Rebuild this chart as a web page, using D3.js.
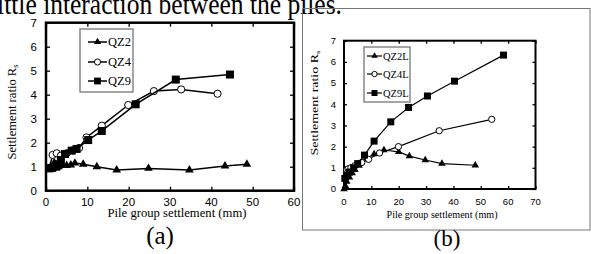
<!DOCTYPE html>
<html>
<head>
<meta charset="utf-8">
<script src="https://cdn.jsdelivr.net/npm/d3@7"></script>
<style>
  body { margin: 0; background: #fff; }
  svg { display: block; }
</style>
</head>
<body>
<div class="graphHere"></div>
<script>
// panel (a) data - settlement (mm) vs settlement ratio
var qz2X = [0.8, 1.5, 2, 2.5, 3, 4, 5, 6, 7, 9, 12.3, 17.1, 24.8, 34.7, 43.3, 48.6];
var qz2Y = [0.92, 0.95, 1.17, 1.05, 1.0, 1.05, 1.05, 1.07, 1.15, 1.1, 1.0, 0.86, 0.93, 0.86, 1.03, 1.1];
var qz4X = [0.8, 1.6, 2.6, 3.6, 5, 6.5, 8, 9.8, 13.5, 19.9, 26.1, 32.7, 41.5];
var qz4Y = [0.95, 1.49, 1.56, 1.46, 1.56, 1.68, 1.78, 2.22, 2.71, 3.57, 4.15, 4.22, 4.04];
var qz9X = [0.8, 1.5, 2.5, 3, 3.6, 4.6, 6.2, 7.4, 10.2, 13.5, 21.7, 31.4, 44.5];
var qz9Y = [0.93, 0.95, 1.0, 1.1, 1.28, 1.53, 1.67, 1.74, 2.11, 2.49, 3.6, 4.63, 4.84];

// panel (b) data
var qz2lX = [0, 0.5, 1, 2, 3, 4, 5.5, 8, 11, 14.6, 20, 23.9, 29.7, 35.8, 48];
var qz2lY = [0, 0.15, 0.35, 0.55, 0.75, 0.9, 1.1, 1.4, 1.65, 1.84, 1.75, 1.55, 1.37, 1.2, 1.12];
var qz4lX = [1, 1.5, 2.5, 4, 6.5, 9, 13, 19.9, 34.8, 54];
var qz4lY = [0.9, 0.95, 1.0, 1.1, 1.25, 1.4, 1.7, 2.0, 2.75, 3.29];
var qz9lX = [0.3, 1, 2, 3.5, 5, 7.5, 11, 17.1, 23.6, 30.5, 40.4, 58.3];
var qz9lY = [0.5, 0.65, 0.8, 1.0, 1.2, 1.6, 2.26, 3.17, 3.85, 4.39, 5.09, 6.32];

var xTicksA = [0, 10, 20, 30, 40, 50, 60];
var xTicksB = [0, 10, 20, 30, 40, 50, 60, 70];
var yTicks = [0, 1, 2, 3, 4, 5, 6, 7];

var serif = "'Liberation Serif', 'DejaVu Serif', serif";
var sans = "'Liberation Sans', Arial, sans-serif";

function pts(xs, ys){
  return xs.map(function(x, i){ return [x, ys[i]]; });
}

var svg = d3.select(".graphHere").append("svg")
  .attr("width", 591)
  .attr("height", 254);

// cropped caption line at the top
svg.append("text")
  .attr("x", -10).attr("y", 14)
  .attr("textLength", 352)
  .attr("lengthAdjust", "spacingAndGlyphs")
  .style("font-family", serif)
  .style("font-size", "30px")
  .text("little interaction between the piles.");

// outer box of panel (b)
svg.append("rect")
  .attr("x", 302.5).attr("y", 8.5)
  .attr("width", 287.5).attr("height", 221.5)
  .attr("fill", "none").attr("stroke", "#777").attr("stroke-width", 1);

function drawPanel(p){
  var x = d3.scaleLinear().domain([0, p.xMax]).range([p.left, p.right]);
  var y = d3.scaleLinear().domain([0, 7]).range([p.bottom, p.top]);
  var g = svg.append("g");

  // inner ticks on all four sides
  g.append("g").attr("transform", "translate(0," + p.bottom + ")")
    .call(d3.axisBottom(x).tickValues(p.xTicks).tickSizeInner(-p.tick).tickSizeOuter(0).tickFormat(""));
  g.append("g").attr("transform", "translate(0," + p.top + ")")
    .call(d3.axisTop(x).tickValues(p.xTicks).tickSizeInner(-p.tick).tickSizeOuter(0).tickFormat(""));
  g.append("g").attr("transform", "translate(" + p.left + ",0)")
    .call(d3.axisLeft(y).tickValues(yTicks).tickSizeInner(-p.tick).tickSizeOuter(0).tickFormat(""));
  g.append("g").attr("transform", "translate(" + p.right + ",0)")
    .call(d3.axisRight(y).tickValues(yTicks).tickSizeInner(-p.tick).tickSizeOuter(0).tickFormat(""));
  g.selectAll(".domain").remove();
  g.selectAll(".tick line").attr("stroke", "#000").attr("stroke-width", 1.3);

  g.append("rect")
    .attr("x", p.left).attr("y", p.top)
    .attr("width", p.right - p.left).attr("height", p.bottom - p.top)
    .attr("fill", "none").attr("stroke", "#000").attr("stroke-width", p.frame);

  // tick labels
  g.selectAll(".xl").data(p.xTicks).enter().append("text")
    .attr("x", function(d){ return x(d); })
    .attr("y", p.bottom + p.xLabGap)
    .attr("text-anchor", "middle")
    .style("font-family", sans)
    .style("font-size", p.tickFont + "px")
    .text(function(d){ return d; });
  g.selectAll(".yl").data(yTicks).enter().append("text")
    .attr("x", p.left - p.yLabGap)
    .attr("y", function(d){ return y(d) + p.tickFont * 0.36; })
    .attr("text-anchor", "end")
    .style("font-family", sans)
    .style("font-size", p.tickFont + "px")
    .text(function(d){ return d; });

  // axis titles
  g.append("text")
    .attr("x", p.xTitle[0]).attr("y", p.xTitle[1])
    .attr("text-anchor", "middle")
    .attr("textLength", p.xTitleLen).attr("lengthAdjust", "spacingAndGlyphs")
    .style("font-family", serif)
    .style("font-size", p.titleFont + "px")
    .text("Pile group settlement (mm)");
  var yt = g.append("text")
    .attr("transform", "translate(" + p.yTitle[0] + "," + p.yTitle[1] + ") rotate(-90)")
    .attr("text-anchor", "middle")
    .attr("textLength", p.yTitleLen).attr("lengthAdjust", "spacingAndGlyphs")
    .style("font-family", serif)
    .style("font-size", p.titleFont + "px");
  yt.append("tspan").text("Settlement ratio R");
  yt.append("tspan").attr("dy", 2).style("font-size", (p.titleFont * 0.65) + "px").text("s");

  // series
  var line = d3.line().x(function(d){ return x(d[0]); }).y(function(d){ return y(d[1]); });
  p.series.forEach(function(s){
    var data = pts(s.xs, s.ys);
    g.append("path").datum(data)
      .attr("d", line).attr("fill", "none")
      .attr("stroke", "#000").attr("stroke-width", p.lineW);
    drawMarks(g, data.map(function(d){ return [x(d[0]), y(d[1])]; }), s.mark, p.mk);
  });

  // legend
  var L = p.legend;
  g.append("rect")
    .attr("x", L.x).attr("y", L.y).attr("width", L.w).attr("height", L.h)
    .attr("fill", "#fff").attr("stroke", "#888").attr("stroke-width", 1.5);
  p.series.forEach(function(s, i){
    var ly = L.rows[i];
    g.append("line")
      .attr("x1", L.lx0).attr("x2", L.lx1).attr("y1", ly).attr("y2", ly)
      .attr("stroke", "#000").attr("stroke-width", p.lineW);
    drawMarks(g, [[(L.lx0 + L.lx1) / 2, ly]], s.mark, p.mk * 0.85);
    g.append("text")
      .attr("x", L.tx).attr("y", ly + L.font * 0.35)
      .style("font-family", serif)
      .style("font-size", L.font + "px")
      .text(s.name);
  });

  // panel caption
  svg.append("text")
    .attr("x", p.cap[0]).attr("y", p.cap[1])
    .attr("text-anchor", "middle")
    .style("font-family", serif)
    .style("font-size", p.capFont + "px")
    .text(p.capText);
}

function drawMarks(g, xy, mark, k){
  if(mark == "circle"){
    g.selectAll(null).data(xy).enter().append("circle")
      .attr("cx", function(d){ return d[0]; }).attr("cy", function(d){ return d[1]; })
      .attr("r", k * 0.45).attr("fill", "#fff").attr("stroke", "#000").attr("stroke-width", 1);
  } else {
    var sym = mark == "square" ? d3.symbolSquare : d3.symbolTriangle;
    var size = mark == "square" ? k * k : k * k * 0.5;
    g.selectAll(null).data(xy).enter().append("path")
      .attr("transform", function(d){ return "translate(" + d[0] + "," + d[1] + ")"; })
      .attr("d", d3.symbol().type(sym).size(size))
      .attr("fill", "#000");
  }
}

drawPanel({
  left: 46, right: 294, top: 22.7, bottom: 190.7, xMax: 60, xTicks: xTicksA,
  tick: 4, frame: 2.5, lineW: 1.5, mk: 8, tickFont: 11.5, xLabGap: 15.5, yLabGap: 9,
  titleFont: 12, xTitle: [177, 216.5], xTitleLen: 139, yTitle: [16, 112], yTitleLen: 95,
  cap: [160, 244], capFont: 25, capText: "(a)",
  series: [
    { name: "QZ2", xs: qz2X, ys: qz2Y, mark: "triangle" },
    { name: "QZ4", xs: qz4X, ys: qz4Y, mark: "circle" },
    { name: "QZ9", xs: qz9X, ys: qz9Y, mark: "square" }
  ],
  legend: { x: 80, y: 29, w: 53, h: 63, rows: [42, 62, 81], lx0: 88, lx1: 107, tx: 108, font: 12.5 }
});

drawPanel({
  left: 344, right: 535.5, top: 40.7, bottom: 189, xMax: 70, xTicks: xTicksB,
  tick: 3, frame: 2, lineW: 1.2, mk: 7, tickFont: 9.5, xLabGap: 15.5, yLabGap: 8,
  titleFont: 10, xTitle: [442, 218], xTitleLen: 111, yTitle: [318, 103], yTitleLen: 105,
  cap: [447, 246], capFont: 23, capText: "(b)",
  series: [
    { name: "QZ2L", xs: qz2lX, ys: qz2lY, mark: "triangle" },
    { name: "QZ4L", xs: qz4lX, ys: qz4lY, mark: "circle" },
    { name: "QZ9L", xs: qz9lX, ys: qz9lY, mark: "square" }
  ],
  legend: { x: 364, y: 47, w: 46, h: 55, rows: [56, 74, 93], lx0: 367, lx1: 382, tx: 383, font: 10.5 }
});
</script>
</body>
</html>
